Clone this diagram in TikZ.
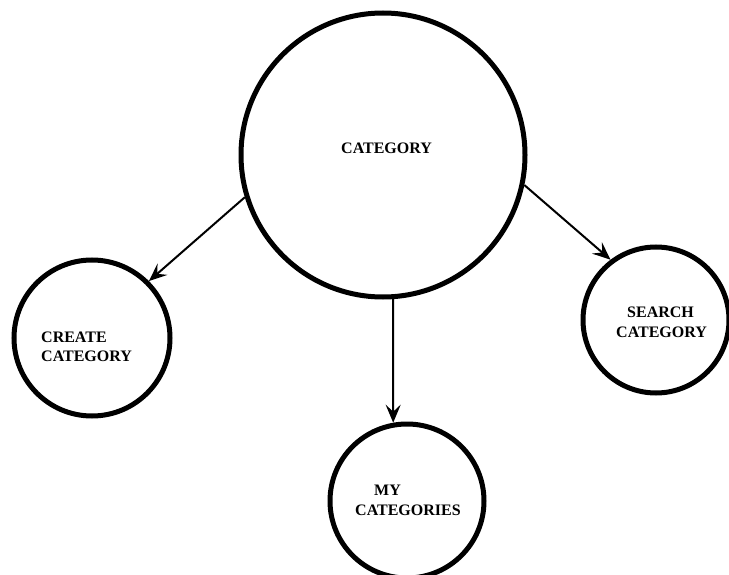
\documentclass[tikz,border=0pt]{standalone}
\usepackage{fontspec}
\setmainfont{Liberation Serif}
\usetikzlibrary{arrows.meta}
\begin{document}
\begin{tikzpicture}[x=1pt,y=-1pt,
  bubble/.style={draw=black,circle,line width=5pt,inner sep=0pt,minimum size=#1},
  lbl/.style={font=\fontsize{16}{19}\selectfont\bfseries,inner sep=0pt,anchor=west},
  link/.style={line width=2pt,-{Stealth[length=18pt,width=15pt,inset=7pt]}}]
\useasboundingbox (0,0) rectangle (729,575);
\fill[white] (0,0) rectangle (729,575);

% circles
\node[bubble=284pt] (cat)    at (383,155) {};
\node[bubble=156pt] (create) at (92,338)  {};
\node[bubble=146pt] (search) at (656,320) {};
\node[bubble=154pt] (mine)   at (407,501) {};

% labels
\node[lbl] (catT)     at (341,148) {CATEGORY};
\node[lbl] (createA)  at (41,337)  {CREATE};
\node[lbl] (createB)  at (41,356)  {CATEGORY};
\node[lbl] (searchA)  at (627,312) {SEARCH};
\node[lbl] (searchB)  at (616,332) {CATEGORY};
\node[lbl] (mineA)    at (374,490) {MY};
\node[lbl] (mineB)    at (355,510) {CATEGORIES};

% connectors
\draw[link] (cat.197) -- (create.45);
\draw[link] (cat.-12) -- (search.127);
\draw[link] (cat.-86) -- (mine.100);
\end{tikzpicture}
\end{document}
